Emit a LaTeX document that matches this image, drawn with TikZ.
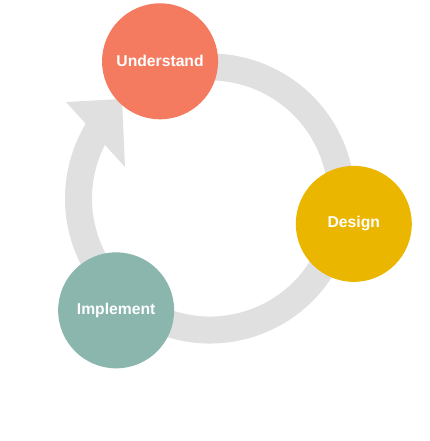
\documentclass[tikz,border=0pt]{standalone}
\usepackage{fontspec}
\setmainfont{Liberation Sans}
\definecolor{ringgrey}{HTML}{E0E0E0}
\definecolor{undcol}{HTML}{F47B5F}
\definecolor{descol}{HTML}{EBB600}
\definecolor{impcol}{HTML}{8AB6AE}
\tikzset{phase/.style={circle,minimum size=116pt,inner sep=0pt,text=white,
  font=\fontsize{15.7}{18}\selectfont\bfseries}}
\begin{document}
\begin{tikzpicture}[x=1pt,y=1pt]
\useasboundingbox (-210,198.5) rectangle (219,-242.5);

\draw[ringgrey,line width=27pt] (110:131.5) arc[start angle=110,end angle=-215,radius=131.5];
\fill[ringgrey] (-144,96.5) -- (-88,99.5) -- (-85,31.5) -- cycle;

\node[phase,fill=undcol](1) at (110:146) {Understand};
\node[phase,fill=descol](2) at (-10:146) {Design};
\node[phase,fill=impcol](3) at (230:146) {Implement};

\end{tikzpicture}
\end{document}
